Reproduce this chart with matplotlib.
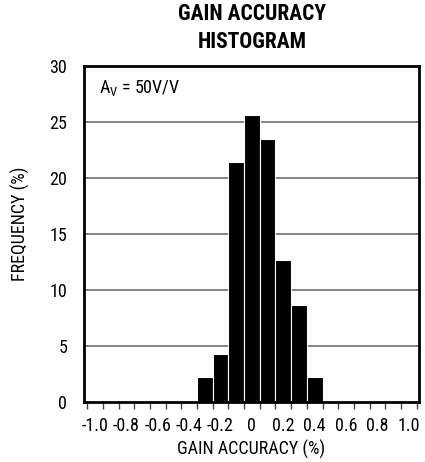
import matplotlib
matplotlib.use("Agg")
import matplotlib.pyplot as plt
import numpy as np

FAM = ['Roboto Condensed', 'Archivo Narrow', 'Liberation Sans', 'DejaVu Sans']
plt.rcParams['font.family'] = FAM
plt.rcParams['mathtext.fontset'] = 'custom'
plt.rcParams['mathtext.rm'] = 'Roboto Condensed'

# data
bin_centers = [-0.3, -0.2, -0.1, 0.0, 0.1, 0.2, 0.3, 0.4]
frequency = [2.2, 4.3, 21.4, 25.6, 23.5, 12.7, 8.7, 2.2]
x_tick_labels = ['-1.0', '-0.8', '-0.6', '-0.4', '-0.2', '0', '0.2', '0.4', '0.6', '0.8', '1.0']
x_label_values = [-1.0, -0.8, -0.6, -0.4, -0.2, 0.0, 0.2, 0.4, 0.6, 0.8, 1.0]
y_ticks = [0, 5, 10, 15, 20, 25, 30]
bin_width = 0.1

FS = 13

W, H = 425, 462
L, R, T, B = 84, 419, 66, 402

fig = plt.figure(figsize=(W/100, H/100), dpi=100)
ax = fig.add_axes([L/W, 1-B/H, (R-L)/W, (B-T)/H])

ax.bar(bin_centers, frequency, width=bin_width, color='black', edgecolor='white', linewidth=0.8, zorder=3)

ax.set_xlim(-1.07, 1.065)
ax.set_ylim(0, 30)

# gridlines
for y in y_ticks[1:-1]:
    ax.axhline(y, color='#6e6e6e', linewidth=1.2, zorder=1)

# x ticks at bin edges, labels at centers
edges = np.round(np.arange(-1.05, 1.0501, 0.1), 2)
ax.set_xticks(edges)
ax.set_xticklabels([])
ax.tick_params(axis='x', which='major', direction='out', length=5, width=1, color='#444444')
ax.set_xticks(x_label_values, minor=True)
ax.set_xticklabels(x_tick_labels, minor=True, fontsize=FS)
ax.tick_params(axis='x', which='minor', length=0, pad=11)

ax.set_yticks(y_ticks)
ax.set_yticklabels([str(v) for v in y_ticks], fontsize=FS)
ax.tick_params(axis='y', length=0, pad=12)

for s in ax.spines.values():
    s.set_linewidth(2)
    s.set_color('black')
    s.set_zorder(5)

ax.set_xlabel('GAIN ACCURACY (%)', fontsize=FS)
ax.xaxis.label.set_va('center')
ax.xaxis.set_label_coords((251-L)/(R-L), (B-449)/(B-T))

ax.set_ylabel('FREQUENCY (%)', fontsize=FS)
ax.yaxis.label.set_va('center')
ax.yaxis.set_label_coords((20-L)/(R-L), (B-224)/(B-T))

ax.text(0.045, 0.935, r'A$_\mathregular{V}$ = 50V/V', transform=ax.transAxes,
        fontsize=FS, ha='left', va='center')

fig.text(252/W, 1-28/H, 'GAIN ACCURACY\nHISTOGRAM', ha='center', va='center',
         fontsize=15.5, fontweight='bold', linespacing=1.3)

fig.savefig('out.png', dpi=100)
